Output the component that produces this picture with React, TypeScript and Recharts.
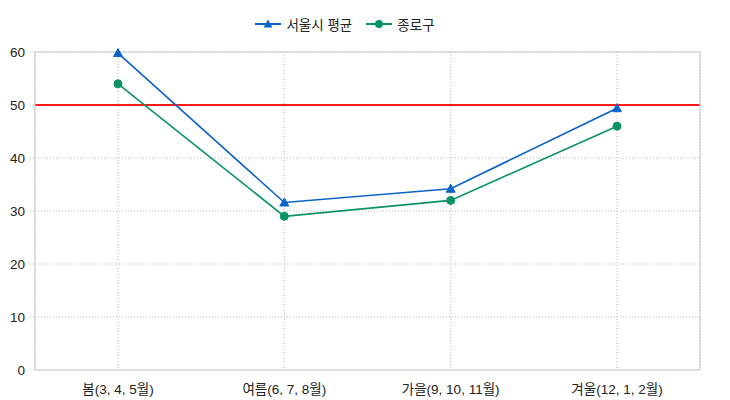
import React from "react";
import { LineChart, Line, XAxis, YAxis, CartesianGrid, ReferenceLine } from "recharts";

const categories = ["봄(3, 4, 5월)", "여름(6, 7, 8월)", "가을(9, 10, 11월)", "겨울(12, 1, 2월)"];
const seoulAvg = [59.8, 31.6, 34.2, 49.4];
const jongno = [54.0, 29.0, 32.0, 46.0];
const yTicks = [0, 10, 20, 30, 40, 50, 60];
const refValue = 50;

const BLUE = "#0b63c8";
const GREEN = "#0a9461";
const FONT = "'Liberation Sans', 'Noto Sans CJK KR', sans-serif";

const data = categories.map((c, i) => ({ name: c, seoul: seoulAvg[i], jongno: jongno[i] }));

const Triangle = (props: any) => {
  const { cx, cy } = props;
  if (cx == null || cy == null) return null;
  return <path d={`M${cx},${cy - 4.5} L${cx + 4.5},${cy + 3.5} L${cx - 4.5},${cy + 3.5} Z`} fill={BLUE} stroke={BLUE} />;
};

const Circle = (props: any) => {
  const { cx, cy } = props;
  if (cx == null || cy == null) return null;
  return <circle cx={cx} cy={cy} r={4} fill={GREEN} stroke={GREEN} />;
};

const LegendBox = () => (
  <div style={{ position: "absolute", left: 0, top: 14, width: 690, display: "flex", justifyContent: "center", alignItems: "center", fontFamily: FONT, fontSize: 13.5, color: "#222" }}>
    <svg width={26} height={12} style={{ marginRight: 5 }}>
      <line x1={0} y1={6} x2={26} y2={6} stroke={BLUE} strokeWidth={2} />
      <path d="M13,1.5 L17.5,9.5 L8.5,9.5 Z" fill={BLUE} />
    </svg>
    <span style={{ marginRight: 14 }}>서울시 평균</span>
    <svg width={26} height={12} style={{ marginRight: 5 }}>
      <line x1={0} y1={6} x2={26} y2={6} stroke={GREEN} strokeWidth={2} />
      <circle cx={13} cy={6} r={4} fill={GREEN} />
    </svg>
    <span>종로구</span>
  </div>
);

export default function App() {
  return (
    <div style={{ position: "absolute", left: 0, top: 0, width: 730, height: 400, background: "#fff" }}>
      <LineChart width={730} height={400} data={data} margin={{ top: 51, right: 29, bottom: 0, left: 0 }}>
        <CartesianGrid stroke="#bbb" strokeDasharray="1 2" />
        <XAxis
          dataKey="name"
          padding={{ left: 83, right: 83 }}
          height={30}
          axisLine={{ stroke: "#c8c8c8" }}
          tickLine={false}
          tick={{ fill: "#222", fontSize: 13.5, fontFamily: FONT }}
          tickMargin={8}
          interval={0}
        />
        <XAxis xAxisId="top" orientation="top" dataKey="name" height={1} tick={false} tickLine={false} axisLine={{ stroke: "#c8c8c8", strokeWidth: 1 }} />
        <YAxis
          domain={[0, 60]}
          ticks={yTicks}
          width={35}
          axisLine={{ stroke: "#c8c8c8" }}
          tickLine={{ stroke: "#bbb", strokeDasharray: "1 2" }}
          tickSize={5}
          tick={{ fill: "#222", fontSize: 13.5, fontFamily: FONT }}
          tickMargin={5}
        />
        <YAxis yAxisId="right" orientation="right" width={1} domain={[0, 60]} tick={false} tickLine={false} axisLine={{ stroke: "#c8c8c8", strokeWidth: 1 }} />
        <ReferenceLine y={refValue} stroke="#ff1a1a" strokeWidth={2} />
        <Line dataKey="seoul" name="서울시 평균" stroke={BLUE} strokeWidth={1.6} dot={<Triangle />} isAnimationActive={false} />
        <Line dataKey="jongno" name="종로구" stroke={GREEN} strokeWidth={1.6} dot={<Circle />} isAnimationActive={false} />
      </LineChart>
      <LegendBox />
    </div>
  );
}
